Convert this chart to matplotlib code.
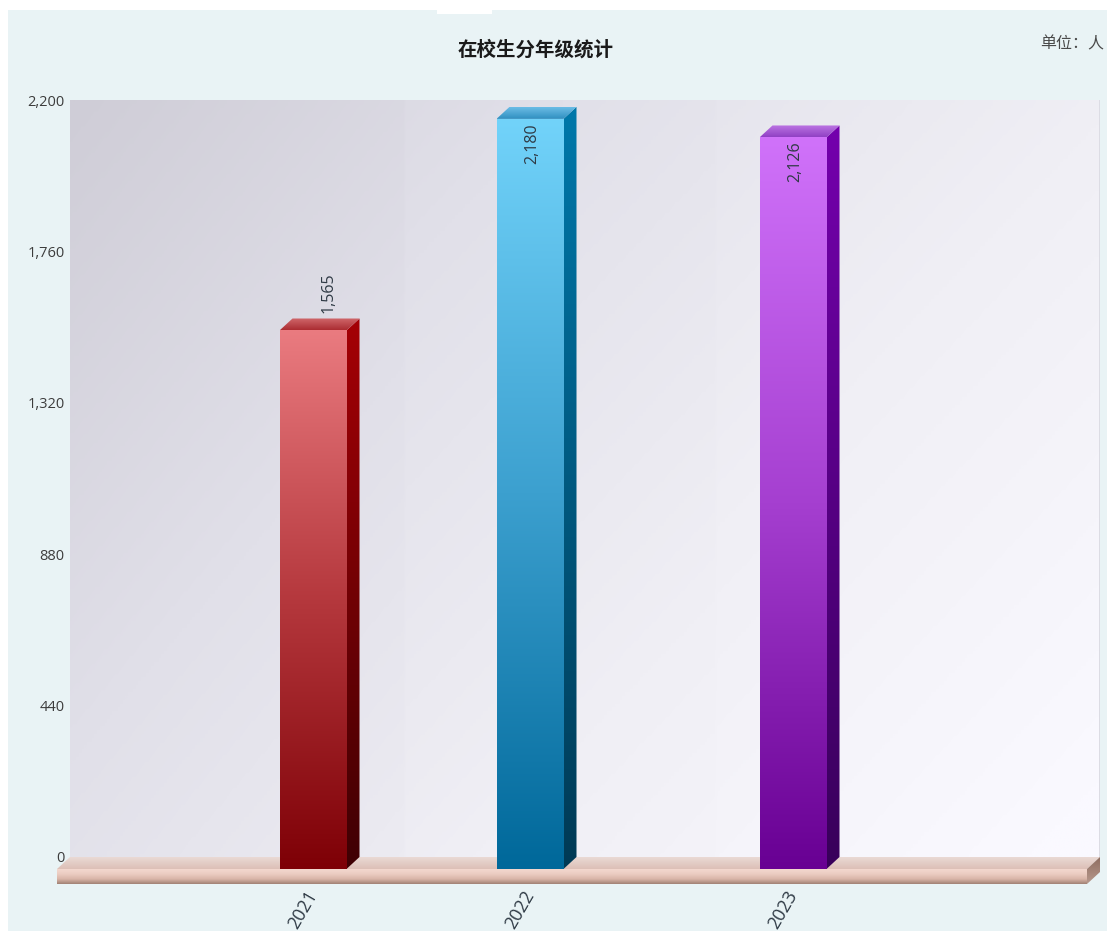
import numpy as np
import matplotlib
matplotlib.use("Agg")
import matplotlib.pyplot as plt
from matplotlib.colors import LinearSegmentedColormap
from matplotlib.patches import Polygon, Rectangle
from matplotlib.transforms import Affine2D

plt.rcParams["font.family"] = ["Open Sans", "Noto Sans CJK SC", "DejaVu Sans"]

# data
years = ["2021", "2022", "2023"]
students = [1565, 2180, 2126]
y_ticks = [0, 440, 880, 1320, 1760, 2200]

# layout, in pixels of the 1107x931 image
W, H = 1107, 931
wall_l, wall_r, wall_t, wall_b = 70, 1100, 100, 857
depth_x, depth_y = 13, 12
bar_x = [326, 543, 806]
bar_w = 67
band_edges = [70, 405, 716, 1100]
label_dx = [16, 2, 2]
label_dy = [17, -4, -4]

bar_colors = [
    {"front": ["#ea7b80", "#b5383d", "#7e0006"], "side": ["#a50006", "#3f0003"], "top": ["#d0686c", "#ab2c31"]},
    {"front": ["#72d3fa", "#3ca0cf", "#00689a"], "side": ["#0078aa", "#003a55"], "top": ["#6cbde6", "#2f8fc0"]},
    {"front": ["#d072fa", "#a53fd0", "#680093"], "side": ["#7400ad", "#38005a"], "top": ["#c07ae6", "#9040c4"]},
]

fig = plt.figure(figsize=(W / 100, H / 100), dpi=100, facecolor="white")
ax = fig.add_axes([wall_l / W, 1 - wall_b / H, (wall_r - wall_l) / W, (wall_b - wall_t) / H])
ax.set_facecolor("none")
for s in ax.spines.values():
    s.set_visible(False)

# everything not tied to a value is placed in image pixels
px = Affine2D().scale(1, -1).translate(0, H)

fig.patches.append(Rectangle((8, 10), W - 8, H - 10, transform=px, facecolor="#e9f3f5", edgecolor="none", zorder=-5))
fig.patches.append(Rectangle((437, 10), 55, 4, transform=px, facecolor="white", edgecolor="none", zorder=-4))


def shade(verts, colors, tr, z, alpha=None):
    # vertical gradient clipped to a polygon, first colour at the visual top
    verts = np.array(verts, dtype=float)
    cmap = LinearSegmentedColormap.from_list("c", colors)
    g = np.linspace(0, 1, 256)[:, None]
    x0, x1 = verts[:, 0].min(), verts[:, 0].max()
    y0, y1 = verts[:, 1].min(), verts[:, 1].max()
    if tr is px:
        extent = (x0, x1, y1, y0)
    else:
        extent = (x0, x1, y0, y1)
    im = ax.imshow(g, cmap=cmap, aspect="auto", origin="upper", extent=extent,
                   transform=tr, zorder=z, alpha=alpha, interpolation="bilinear")
    im.set_clip_box(fig.bbox)
    im.set_clip_path(Polygon(verts, transform=tr))
    return im


# back wall, diagonal shading with lighter bands
ny, nx = 200, 400
yy, xx = np.mgrid[0:1:complex(0, ny), 0:1:complex(0, nx)]
wall = 0.62 * xx + 0.38 * yy
xs = np.linspace(wall_l, wall_r, nx)
wall = wall + 0.07 * (xs > band_edges[1])[None, :] * (1 - xx) + 0.035 * (xs > band_edges[2])[None, :]
wall_cmap = LinearSegmentedColormap.from_list("w", ["#cfcdd7", "#e1e0e9", "#f0eff5", "#faf9ff"])
ax.imshow(wall, cmap=wall_cmap, vmin=0, vmax=1, aspect="auto",
          extent=(wall_l, wall_r, wall_b, wall_t), transform=px, zorder=0, interpolation="bilinear")
ax.add_patch(Rectangle((wall_r - 1, wall_t), 2, wall_b - wall_t, transform=px, facecolor="#dcdce4",
                       edgecolor="none", zorder=0.5))

# floor slab
fl, fr = wall_l - depth_x, wall_r - depth_x
fb = wall_b + depth_y
shade([(fl, fb), (wall_l, wall_b), (wall_r, wall_b), (fr, fb)], ["#ead2ca", "#d9aea2"], px, 1, alpha=0.75)
shade([(fl, fb), (fr, fb), (fr, fb + 15), (fl, fb + 15)], ["#f3d8cf", "#ebccc1", "#d9b5a8", "#a08073"], px, 1.2)
shade([(fr, fb), (wall_r, wall_b), (wall_r, wall_b + 15), (fr, fb + 15)], ["#8f6d60", "#b89a8e"], px, 1.2)

# bars: front face sits depth_x / depth_y pixels in front of the wall
front = ax.transData + Affine2D().translate(-depth_x, -depth_y)
dy = depth_y * y_ticks[-1] / (wall_b - wall_t)
for i, v in enumerate(students):
    l = bar_x[i] - bar_w / 2
    r = l + bar_w
    c = bar_colors[i]
    shade([(l, 0), (r, 0), (r, v), (l, v)], c["front"], front, 3)
    # side and top in wall coords, the slanted corners come from the depth
    lf, rf = l - depth_x, r - depth_x
    shade([(rf, -dy), (r, 0), (r, v), (rf, v - dy)], c["side"], ax.transData, 3)
    shade([(lf, v - dy), (rf, v - dy), (r, v), (l, v)], c["top"], ax.transData, 3)

    tx = ax.transData + Affine2D().translate(-depth_x + label_dx[i], -depth_y + label_dy[i])
    ax.text(bar_x[i], v, f"{v:,}", rotation=90, ha="center",
            va="bottom" if label_dy[i] > 0 else "top", fontsize=11.5, color="#2f3a45",
            transform=tx, zorder=4)

ax.set_xlim(wall_l, wall_r)
ax.set_ylim(0, y_ticks[-1])
ax.set_yticks(y_ticks)
ax.set_yticklabels([f"{t:,}" for t in y_ticks], fontsize=10.5, color="#3c3c3c")
ax.tick_params(axis="y", length=0, pad=4)
ax.set_xticks([x - depth_x for x in bar_x])
ax.set_xticklabels(years, rotation=60, rotation_mode="anchor", ha="right", va="center",
                   fontsize=13, color="#2f3a45")
ax.tick_params(axis="x", length=0, pad=25)

fig.text(536 / W, 1 - 50 / H, "在校生分年级统计", ha="center", va="center", fontsize=14,
         fontweight="bold", color="#1a1a1a", family=["Noto Sans CJK SC", "DejaVu Sans"])
fig.text(1104 / W, 1 - 44 / H, "单位：人", ha="right", va="center", fontsize=11.5,
         color="#4a4a4a", family=["Noto Sans CJK SC", "DejaVu Sans"])

fig.savefig("out.png", dpi=100, facecolor="white")
